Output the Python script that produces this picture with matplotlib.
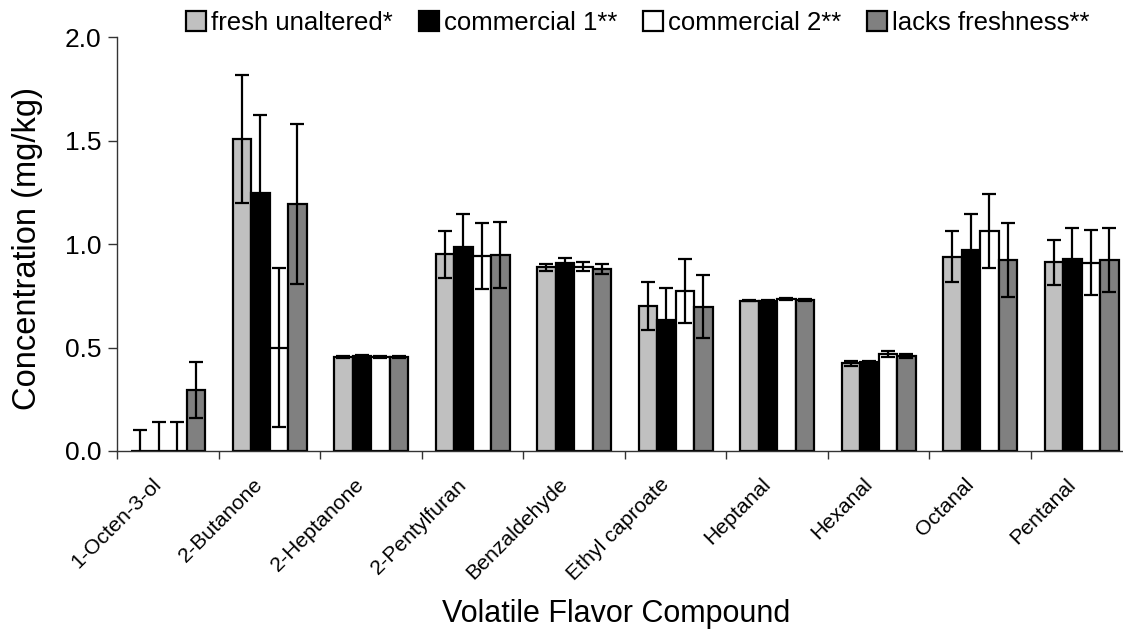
import numpy as np
import matplotlib
matplotlib.use("Agg")
import matplotlib.pyplot as plt
import matplotlib.transforms as mtransforms

plt.rcParams['font.family'] = ['Liberation Sans', 'DejaVu Sans']

compounds = ["1-Octen-3-ol", "2-Butanone", "2-Heptanone", "2-Pentylfuran", "Benzaldehyde",
             "Ethyl caproate", "Heptanal", "Hexanal", "Octanal", "Pentanal"]
series_names = ["fresh unaltered*", "commercial 1**", "commercial 2**", "lacks freshness**"]

fresh = [0.0, 1.51, 0.453, 0.951, 0.888, 0.701, 0.727, 0.425, 0.940, 0.912]
fresh_sd = [0.10, 0.31, 0.004, 0.113, 0.016, 0.115, 0.003, 0.012, 0.125, 0.110]
comm1 = [0.0, 1.245, 0.460, 0.988, 0.911, 0.633, 0.727, 0.428, 0.972, 0.927]
comm1_sd = [0.14, 0.38, 0.004, 0.160, 0.020, 0.153, 0.003, 0.006, 0.174, 0.150]
comm2 = [0.0, 0.50, 0.453, 0.943, 0.891, 0.775, 0.735, 0.468, 1.064, 0.911]
comm2_sd = [0.14, 0.385, 0.004, 0.160, 0.022, 0.155, 0.004, 0.015, 0.180, 0.155]
lacks = [0.295, 1.194, 0.453, 0.946, 0.879, 0.698, 0.730, 0.460, 0.924, 0.922]
lacks_sd = [0.137, 0.385, 0.004, 0.160, 0.024, 0.153, 0.003, 0.010, 0.180, 0.154]

values = [fresh, comm1, comm2, lacks]
errors = [fresh_sd, comm1_sd, comm2_sd, lacks_sd]
colors = ["#C0C0C0", "#000000", "#FFFFFF", "#808080"]

W, H = 1123, 632
fig = plt.figure(figsize=(W / 100, H / 100), dpi=100)
ax_left, ax_right = 117.3, 1132.4
ax_bottom, ax_top = 451.0, 37.3
ax = fig.add_axes([ax_left / W, 1 - ax_bottom / H, (ax_right - ax_left) / W, (ax_bottom - ax_top) / H])

n = len(compounds)
x = np.arange(n)
bw = 0.182
handles = []
for i, (vals, errs, c) in enumerate(zip(values, errors, colors)):
    pos = x + (i - 1.5) * bw
    b = ax.bar(pos, vals, width=bw, color=c, edgecolor="black", linewidth=1.6,
               label=series_names[i], zorder=2)
    ax.errorbar(pos, vals, yerr=errs, fmt="none", ecolor="black", elinewidth=1.6,
                capsize=5.2, capthick=1.6, zorder=3)
    handles.append(b)

ax.set_xlim(-0.5, n - 0.5)
ax.set_ylim(0, 2.0)
ax.set_yticks([0.0, 0.5, 1.0, 1.5, 2.0])
ax.set_yticklabels(["0.0", "0.5", "1.0", "1.5", "2.0"], fontsize=19)
ax.set_xticks(x)
ax.set_xticklabels(compounds, rotation=45, ha="right", rotation_mode="anchor", fontsize=15.3)
ax.tick_params(axis="x", which="major", length=0, pad=17)
offset = mtransforms.ScaledTranslation(-16 / 100, 0, fig.dpi_scale_trans)
for lab in ax.get_xticklabels():
    lab.set_transform(lab.get_transform() + offset)
ax.set_xticks(np.arange(n + 1) - 0.5, minor=True)
ax.tick_params(axis="x", which="minor", length=6, width=1, direction="out", color="#333333")
ax.tick_params(axis="y", length=6.5, width=1, direction="out", pad=5, color="#333333")

for s in ["top", "right"]:
    ax.spines[s].set_visible(False)
for s in ["left", "bottom"]:
    ax.spines[s].set_linewidth(1.0)
    ax.spines[s].set_color("#333333")

fig.text(28 / W, 1 - 249 / H, "Concentration (mg/kg)", fontsize=23.5, rotation=90,
         ha="center", va="center")
fig.text(616 / W, 1 - 614 / H, "Volatile Flavor Compound", fontsize=22, ha="center", va="center")

leg = fig.legend(handles=handles, labels=series_names, loc="center", ncol=4,
                 bbox_to_anchor=(638 / W, 1 - 23 / H), frameon=False, fontsize=18.5,
                 handlelength=0.78, handleheight=0.78, handletextpad=0.2,
                 columnspacing=1.0, borderaxespad=0)

fig.savefig("out.png", dpi=100)
